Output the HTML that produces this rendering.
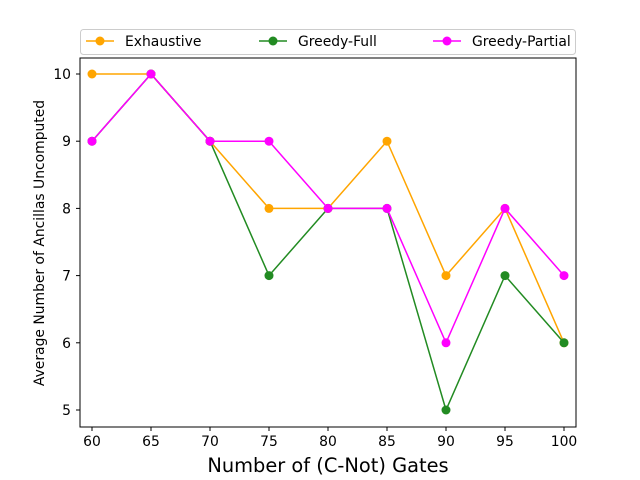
<!DOCTYPE html>
<html><head><meta charset="utf-8"><style>
body{margin:0;background:#fff;}
svg{display:block;font-family:"DejaVu Sans","Liberation Sans",sans-serif;}
</style></head><body>
<svg id="chart" width="640" height="480" xmlns="http://www.w3.org/2000/svg">
<rect x="0" y="0" width="640" height="480" fill="#fff"/>
<g id="series"></g>
<rect x="80" y="58" width="496" height="369" fill="none" stroke="#000" stroke-width="1"/>
<g id="axes"></g>
<text x="328" y="472" text-anchor="middle" font-size="19.4">Number of (C-Not) Gates</text>
<text transform="translate(44,243) rotate(-90)" text-anchor="middle" font-size="13.9">Average Number of Ancillas Uncomputed</text>
<g id="legend">
<rect x="80.5" y="29.5" width="495" height="25" rx="3" fill="#fff" stroke="#ccc"/>
</g>
</svg>
<script>
const categories=[60,65,70,75,80,85,90,95,100];
const exhaustive=[10,10,9,8,8,9,7,8,6];
const greedyFull=[9,10,9,7,8,8,5,7,6];
const greedyPartial=[9,10,9,9,8,8,6,8,7];
const yTicks=[5,6,7,8,9,10];
const seriesNames=["Exhaustive","Greedy-Full","Greedy-Partial"];
const NS="http://www.w3.org/2000/svg";
function xs(v){return 92+(v-60)*(564-92)/40;}
function ys(v){return 410-(v-5)*(410-74)/5;}
function mk(tag,attrs,parent){const e=document.createElementNS(NS,tag);for(const k in attrs)e.setAttribute(k,attrs[k]);parent.appendChild(e);return e;}
const axes=document.getElementById('axes');
categories.forEach(c=>{
  const x=xs(c);
  const t=mk('line',{x1:x,x2:x,y1:427,y2:431,stroke:'#000'},axes);
  
  
  const l=mk('text',{x:x,y:446,'text-anchor':'middle','font-size':13.9},axes);
  l.textContent=c;
  
  
});
yTicks.forEach(v=>{
  const y=ys(v);
  const t=mk('line',{x1:76,x2:80,y1:y,y2:y,stroke:'#000'},axes);
  
  
  const l=mk('text',{x:71,y:y+5,'text-anchor':'end','font-size':13.9},axes);
  l.textContent=v;
  
  
});
const sg=document.getElementById('series');
const allSeries=[exhaustive,greedyFull,greedyPartial];
const colors=['orange','#228b22','magenta'];
allSeries.forEach((vals,i)=>{
  const g=mk('g',{},sg);
  
  
  const pts=vals.map((v,j)=>xs(categories[j])+','+ys(v)).join(' ');
  const pl=mk('polyline',{points:pts,fill:'none',stroke:colors[i],'stroke-width':1.5},g);
  
  
  vals.forEach((v,j)=>{
    const c=mk('circle',{cx:xs(categories[j]),cy:ys(v),r:4.5,fill:colors[i]},g);
    
    
  });
});
const lg=document.getElementById('legend');
const lx=[86,259,433];
seriesNames.forEach((n,i)=>{
  const g=mk('g',{},lg);
  
  
  mk('line',{x1:lx[i],x2:lx[i]+28,y1:41,y2:41,stroke:colors[i],'stroke-width':1.5},g);
  mk('circle',{cx:lx[i]+14,cy:41,r:4.5,fill:colors[i]},g);
  const t=mk('text',{x:lx[i]+39,y:46,'font-size':13.9},g);
  t.textContent=n;
});
</script>
</body></html>
